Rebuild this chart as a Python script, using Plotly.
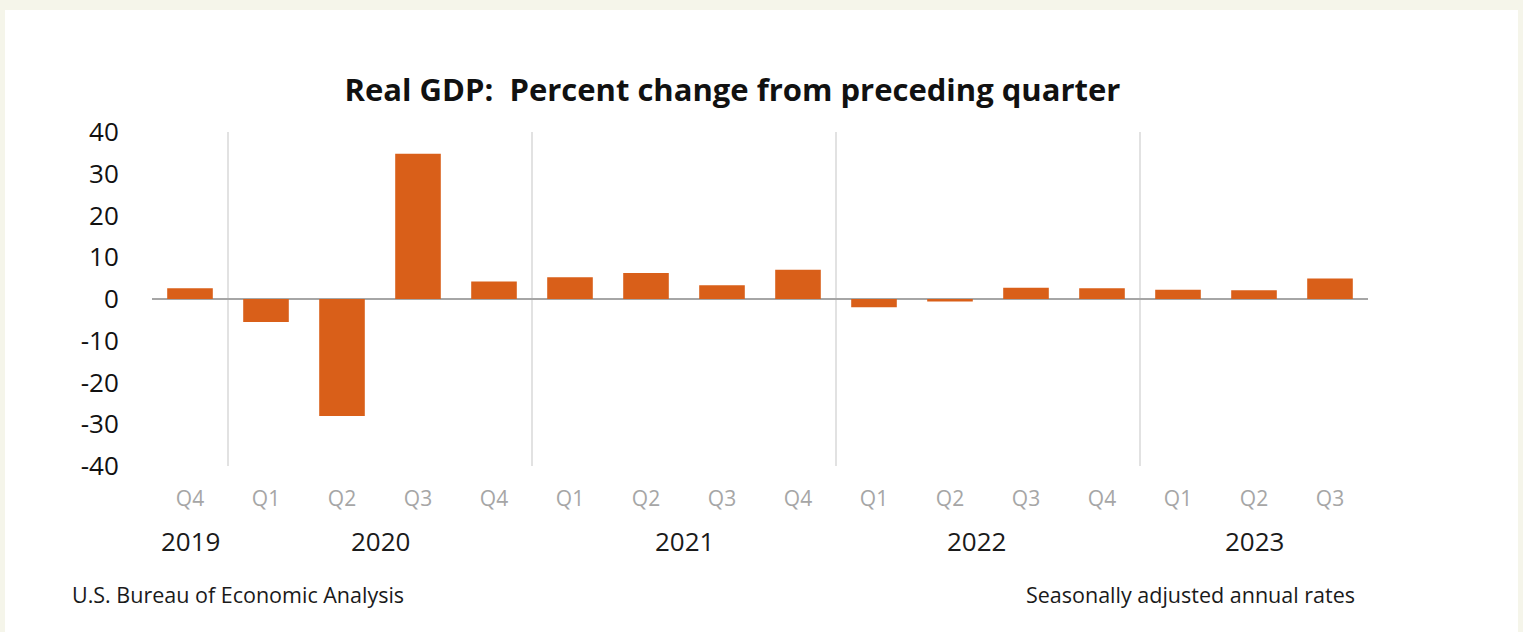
import plotly.graph_objects as go

quarters = ["Q4", "Q1", "Q2", "Q3", "Q4", "Q1", "Q2", "Q3", "Q4", "Q1", "Q2", "Q3", "Q4", "Q1", "Q2", "Q3"]
gdp_change = [2.6, -5.5, -28.0, 34.8, 4.2, 5.2, 6.2, 3.3, 7.0, -2.0, -0.6, 2.7, 2.6, 2.2, 2.1, 4.9]
years = ["2019", "2020", "2021", "2022", "2023"]
year_pos = [0, 2.5, 6.5, 10.35, 14]
year_breaks = [0.5, 4.5, 8.5, 12.5]
y_ticks = [40, 30, 20, 10, 0, -10, -20, -30, -40]
y_tick_labels = ["40", "30", "20", "10", "0", "-10", "-20", "-30", "-40"]

W, H = 1523, 632
L, R, T, B = 152, 155, 132, 166
pw, ph = W - L - R, H - T - B

def px_x(p):
    return (p - L) / pw

def px_y(p):
    return (H - B - p) / ph

FONT = "Open Sans"
idx = list(range(len(quarters)))

fig = go.Figure()
fig.add_trace(go.Bar(
    x=idx, y=gdp_change, marker=dict(color="#d95f19", line=dict(width=0)),
    width=0.6, hoverinfo="y"
))

shapes = [dict(type="rect", xref="paper", yref="paper",
               x0=px_x(5), x1=px_x(1518), y0=px_y(640), y1=px_y(10),
               fillcolor="white", line=dict(width=0), layer="below")]
for b in year_breaks:
    shapes.append(dict(type="line", xref="x", yref="y", x0=b, x1=b, y0=-40, y1=40,
                       line=dict(color="#d9d9d9", width=1.5), layer="below"))

annotations = []
for yr, pos in zip(years, year_pos):
    annotations.append(dict(text=yr, x=pos, xref="x", y=px_y(541), yref="paper",
                            showarrow=False, xanchor="center", yanchor="middle",
                            font=dict(family=FONT, size=26, color="#1a1a1a")))
annotations.append(dict(text="U.S. Bureau of Economic Analysis", x=px_x(70), xref="paper",
                        y=px_y(594), yref="paper", showarrow=False, xanchor="left", yanchor="middle",
                        font=dict(family=FONT, size=21.5, color="#1a1a1a")))
annotations.append(dict(text="Seasonally adjusted annual rates", x=px_x(1357), xref="paper",
                        y=px_y(594), yref="paper", showarrow=False, xanchor="right", yanchor="middle",
                        font=dict(family=FONT, size=21.5, color="#1a1a1a")))

fig.update_layout(
    width=W, height=H,
    margin=dict(l=L, r=R, t=T, b=B, pad=0),
    paper_bgcolor="#f5f5ea", plot_bgcolor="rgba(0,0,0,0)",
    showlegend=False,
    title=dict(text="<b>Real GDP:  Percent change from preceding quarter</b>",
               x=732.5 / W, xref="container", xanchor="center",
               y=1 - 90 / H, yref="container", yanchor="middle",
               font=dict(family=FONT, size=31, color="#111111")),
    xaxis=dict(range=[-0.5, 15.5], tickmode="array", tickvals=idx, ticktext=quarters,
               showgrid=False, zeroline=False, showline=False,
               ticks="outside", ticklen=14, tickcolor="rgba(0,0,0,0)",
               tickfont=dict(family=FONT, size=21, color="#a6a6a6"), fixedrange=True),
    yaxis=dict(range=[-40, 40], tickmode="array", tickvals=y_ticks, ticktext=y_tick_labels,
               showgrid=False, zeroline=True, zerolinecolor="#a6a6a6", zerolinewidth=2,
               showline=False, ticks="outside", ticklen=27, tickcolor="rgba(0,0,0,0)",
               tickfont=dict(family=FONT, size=26, color="#111111"), fixedrange=True),
    shapes=shapes, annotations=annotations, bargap=0.4,
)

fig.write_html("out.html", config={"displayModeBar": False})
